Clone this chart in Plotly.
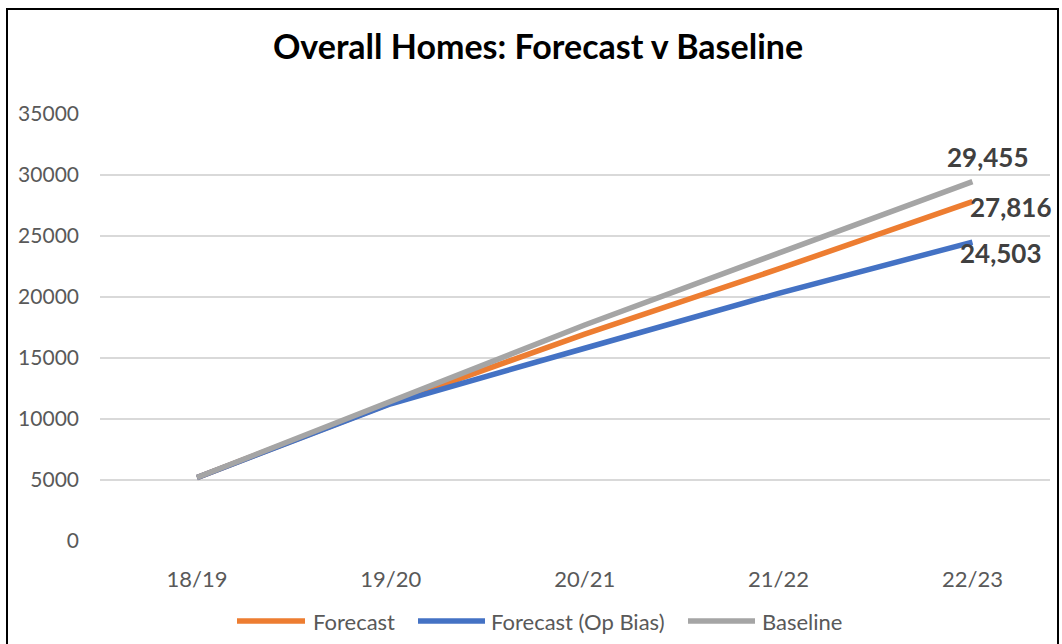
import plotly.graph_objects as go

categories = ["18/19", "19/20", "20/21", "21/22", "22/23"]
forecast = [5200, 11300, 16950, 22300, 27816]
forecast_op_bias = [5200, 11250, 15800, 20300, 24503]
baseline = [5200, 11400, 17700, 23600, 29455]
y_ticks = [0, 5000, 10000, 15000, 20000, 25000, 30000, 35000]

series = [
    ("Forecast", forecast, "#ED7D31"),
    ("Forecast (Op Bias)", forecast_op_bias, "#4472C4"),
    ("Baseline", baseline, "#A5A5A5"),
]

FONT = "Lato, Calibri, Carlito, 'Open Sans', sans-serif"

L, R, T, B = 100, 12, 114, 103
W, H = 1062, 644
pw, ph = W - L - R, H - T - B


def px(x):
    return (x - L) / pw


def py(y):
    return (H - B - y) / ph


fig = go.Figure()
for name, vals, color in series:
    fig.add_trace(go.Scatter(
        x=list(range(len(categories))), y=vals, name=name, mode="lines",
        line=dict(color=color, width=5.5), showlegend=False,
    ))

# end-of-line data labels
label_shift = {"Forecast": (38, -5), "Forecast (Op Bias)": (28, -11), "Baseline": (15, 25)}
for name, vals, color in series:
    dx, dy = label_shift[name]
    fig.add_annotation(
        x=len(categories) - 1, y=vals[-1], text=f"{vals[-1]:,}",
        showarrow=False, xanchor="center", yanchor="middle",
        xshift=dx, yshift=dy,
        font=dict(family=FONT, size=26, color="#404040", weight="bold"),
    )

# legend (custom, wide line samples as in the reference)
legend_items = [(237, 305, 311), (418, 485, 489), (688, 755, 760)]
legend_y = 621
for (x0, x1, tx), (name, vals, color) in zip(legend_items, series):
    fig.add_shape(type="line", xref="paper", yref="paper",
                  x0=px(x0), x1=px(x1), y0=py(legend_y), y1=py(legend_y),
                  line=dict(color=color, width=5.5))
    fig.add_annotation(xref="paper", yref="paper", x=px(tx), y=py(legend_y),
                       text=name, showarrow=False, xanchor="left", yanchor="middle",
                       font=dict(family=FONT, size=22, color="#595959"))

fig.add_shape(type="rect", xref="paper", yref="paper",
              x0=px(7), x1=px(1058), y0=py(660), y1=py(9),
              line=dict(color="#000000", width=2), fillcolor="rgba(0,0,0,0)", layer="below")

fig.update_layout(
    width=W, height=H,
    margin=dict(l=L, r=R, t=T, b=B),
    paper_bgcolor="white", plot_bgcolor="white",
    title=dict(text="<b>Overall Homes: Forecast v Baseline</b>", x=(538 / W), xanchor="center",
               y=1 - 47 / H, yanchor="middle",
               font=dict(family=FONT, size=34, color="#000000")),
    xaxis=dict(
        tickmode="array", tickvals=list(range(len(categories))), ticktext=categories,
        range=[-0.5, 4.40], showgrid=False, zeroline=False, showline=False,
        ticks="", ticklabelstandoff=23,
        tickfont=dict(family=FONT, size=22, color="#595959"),
    ),
    yaxis=dict(
        range=[0, 35000], tickmode="array", tickvals=y_ticks, ticktext=[str(v) for v in y_ticks],
        showgrid=True, gridcolor="#D9D9D9", gridwidth=1.5, zeroline=False, showline=False,
        ticks="", ticklabelstandoff=20,
        tickfont=dict(family=FONT, size=21, color="#595959"),
    ),
    showlegend=False,
)

fig.write_html("out.html")
